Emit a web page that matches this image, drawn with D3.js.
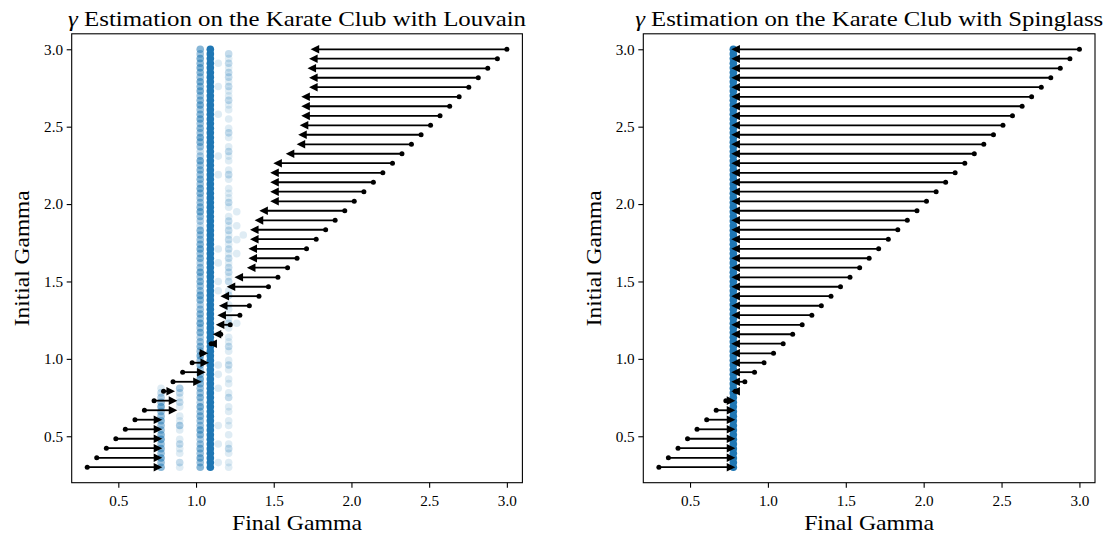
<!DOCTYPE html>
<html><head><meta charset="utf-8">
<script src="https://cdn.jsdelivr.net/npm/d3@7"></script>
<style>body{margin:0;background:#fff} svg{display:block} text{font-family:"Liberation Serif","DejaVu Serif",serif}</style>
</head><body><svg id="chart" width="1107" height="534"></svg>
<script>
// ---------- DATA ----------
const titles = ["Estimation on the Karate Club with Louvain", "Estimation on the Karate Club with Spinglass"];
const xLabel = "Final Gamma";
const yLabel = "Initial Gamma";
const tickValues = [0.5, 1.0, 1.5, 2.0, 2.5, 3.0];
const axisDomain = [0.2, 3.1];

// initial gammas of the single traced run (arrows)
const initialGamma = [0.300,0.361,0.423,0.484,0.545,0.607,0.668,0.730,0.791,0.852,0.914,0.975,1.036,1.098,1.159,1.220,1.282,1.343,1.405,1.466,1.527,1.589,1.650,1.711,1.773,1.834,1.895,1.957,2.018,2.080,2.141,2.202,2.264,2.325,2.386,2.448,2.509,2.570,2.632,2.693,2.755,2.816,2.877,2.939,3.000];
const louvainFinal = [0.770,0.770,0.770,0.770,0.770,0.770,0.867,0.867,0.852,1.024,1.049,1.071,1.066,1.092,1.120,1.140,1.150,1.160,1.170,1.210,1.260,1.340,1.350,1.350,1.360,1.360,1.390,1.420,1.490,1.490,1.490,1.490,1.510,1.590,1.660,1.670,1.680,1.690,1.690,1.690,1.740,1.740,1.730,1.740,1.750];
const spinglassFinal = [0.778,0.778,0.778,0.778,0.778,0.778,0.778,0.778,0.778,0.778,0.778,0.778,0.778,0.778,0.778,0.778,0.778,0.778,0.778,0.778,0.778,0.778,0.778,0.778,0.778,0.778,0.778,0.778,0.778,0.778,0.778,0.778,0.778,0.778,0.778,0.778,0.778,0.778,0.778,0.778,0.778,0.778,0.778,0.778,0.778];

// grid of initial gammas used for the repeated runs (scatter)
const gammaGrid = [0.30,0.33,0.36,0.39,0.42,0.45,0.48,0.51,0.54,0.57,0.60,0.63,0.66,0.69,0.72,0.75,0.78,0.81,0.84,0.87,0.90,0.93,0.96,0.99,1.02,1.05,1.08,1.11,1.14,1.17,1.20,1.23,1.26,1.29,1.32,1.35,1.38,1.41,1.44,1.47,1.50,1.53,1.56,1.59,1.62,1.65,1.68,1.71,1.74,1.77,1.80,1.83,1.86,1.89,1.92,1.95,1.98,2.01,2.04,2.07,2.10,2.13,2.16,2.19,2.22,2.25,2.28,2.31,2.34,2.37,2.40,2.43,2.46,2.49,2.52,2.55,2.58,2.61,2.64,2.67,2.70,2.73,2.76,2.79,2.82,2.85,2.88,2.91,2.94,2.97,3.00];
const gammaLow = [0.30,0.33,0.36,0.39,0.42,0.45,0.48,0.51,0.54,0.57,0.60,0.63,0.66,0.69,0.72,0.75,0.78,0.81];
const gamma1143 = [0.33,0.45,0.57,0.81,0.90,0.96,1.44,1.50,1.62,1.71,2.19,2.31,2.58,2.76,2.91];
const gamma1262 = [1.23,1.68,1.77,1.86,1.95];
const gamma1304 = [1.80];

// Louvain: final gamma levels and number of runs landing on them
const louvainLevels = [0.775, 0.895, 1.027, 1.092, 1.143, 1.210, 1.262, 1.304];
const louvainRunsAt = [gammaLow, gammaLow, gammaGrid, gammaGrid, gamma1143, gammaGrid, gamma1262, gamma1304];
const louvainRuns = [
  [5,4,6,4,5,4,6,5,4,4,5,4,4,6,4,3,2,1],
  [1,2,0,1,1,2,1,0,1,3,1,1,0,1,2,1,2,3],
  [5,4,6,4,5,4,3,5,6,4, 4,5,4,6,3,5,4,4,5,6, 4,3,5,4,6,4,5,4,3,5, 4,6,4,5,4,3,5,6,4,4, 5,4,6,4,3,5,4,6,5,4, 4,5,2,3,4,6,5,4,4,5, 6,4,5,4,5,4,6,3,2,4, 5,6,4,5,4,6,5,4,6,5, 4,6,5,6,4,5,6,5,6,4, 5],
  [62,58,65,60,57,63,66,59,61,64, 58,62,67,60,55,63,61,59,64,62, 57,60,66,63,59,61,58,64,62,60, 65,59,61,57,63,60,66,62,58,61, 64,59,62,60,57,63,61,65,58,62, 60,64,59,61,63,57,62,60,66,59, 61,63,58,62,60,64,59,61,57,63, 62,60,65,58,61,59,63,62,60,64, 58,61,63,59,62,60,57,64,61,60, 62],
  [1,1,1,1,1,1,1,1,1,1,1,1,1,1,1],
  [1,1,0,1,2,1,0,1,0,1, 1,0,1,1,0,2,1,0,1,1, 0,1,2,1,0,1,2,1,1,0, 1,2,1,0,1,1,0,2,1,0, 2,1,2,2,1,2,1,2,1,2, 1,2,1,2,1,0,1,2,1,1, 1,0,1,2,1,0,1,1,2,1, 0,1,2,1,0,1,0,1,1,2, 1,1,2,1,2,2,1,2,1,2, 0],
  [1,1,1,1,1],
  [1]
];

// Spinglass
const spinglassLevels = [0.778];
const spinglassRunsAt = [gammaGrid];
const spinglassRuns = [
  [100,99,100,100,98,100,100,99,100,100, 100,100,99,100,100,100,98,100,100,99, 100,100,100,99,100,100,100,100,99,100, 100,98,100,100,100,99,100,100,100,100, 99,100,100,100,100,98,100,100,99,100, 100,100,99,100,100,100,100,99,100,100, 98,100,100,100,99,100,100,100,100,99, 100,100,98,100,100,100,99,100,100,100, 100,99,100,100,100,98,100,100,99,100, 100]
];

// ---------- DRAW ----------
const svg = d3.select('#chart');
const FONT = '"Liberation Serif","DejaVu Serif",serif';
const BLUE = '#1f77b4';
const ALPHA = 0.14;
const plotTop = 33.8, plotBottom = 482.7;

const panels = [
  {left: 71.7, right: 522.4, title: titles[0], titleLen: 458, levels: louvainLevels, runsAt: louvainRunsAt, runs: louvainRuns, final: louvainFinal},
  {left: 643.3, right: 1095.0, title: titles[1], titleLen: 468, levels: spinglassLevels, runsAt: spinglassRunsAt, runs: spinglassRuns, final: spinglassFinal}
];

function txt(sel, size) {
  return sel.style('font-family', FONT).style('font-size', size + 'px').attr('fill', '#000');
}

panels.forEach(p => {
  const x = d3.scaleLinear().domain(axisDomain).range([p.left, p.right]);
  const y = d3.scaleLinear().domain(axisDomain).range([plotBottom, plotTop]);
  const g = svg.append('g');

  // scatter of repeated runs
  const pts = [];
  p.levels.forEach((lv, li) => {
    p.runsAt[li].forEach((gy, j) => {
      const n = p.runs[li][j];
      if (n > 0) pts.push({fx: lv, gy: gy, n: n});
    });
  });
  g.append('g').selectAll('circle').data(pts).join('circle')
    .attr('cx', d => x(d.fx)).attr('cy', d => y(d.gy)).attr('r', 3.8)
    .attr('fill', BLUE)
    .attr('fill-opacity', d => 1 - Math.pow(1 - ALPHA, d.n));

  // arrows
  const headLen = 8.6, headHalf = 4.3, over = 2;
  const arrows = initialGamma.map((g0, k) => ({g0: g0, g1: p.final[k]}));
  const ag = g.append('g');
  arrows.forEach(a => {
    const x0 = x(a.g0), yy = y(a.g0), x1 = x(a.g1);
    const d = x1 >= x0 ? 1 : -1;
    const tip = x1 + d * over;
    const base = tip - d * headLen;
    ag.append('line').attr('x1', x0).attr('x2', base + d * 1).attr('y1', yy).attr('y2', yy)
      .attr('stroke', '#000').attr('stroke-width', 1.8);
    ag.append('path')
      .attr('d', `M${tip},${yy}L${base},${yy - headHalf}L${base},${yy + headHalf}Z`)
      .attr('fill', '#000');
    ag.append('circle').attr('cx', x0).attr('cy', yy).attr('r', 2.5).attr('fill', '#000');
  });

  // axes
  const fmt = d3.format('.1f');
  const xa = g.append('g').attr('transform', `translate(0,${plotBottom})`)
    .call(d3.axisBottom(x).tickValues(tickValues).tickFormat(fmt).tickSize(5).tickSizeOuter(0));
  xa.selectAll('text').attr('y', 23.5).attr('dy', 0);
  const ya = g.append('g').attr('transform', `translate(${p.left},0)`)
    .call(d3.axisLeft(y).tickValues(tickValues).tickFormat(fmt).tickSize(5).tickSizeOuter(0));
  ya.selectAll('text').attr('x', -8.6);
  [xa, ya].forEach(ax => {
    ax.select('.domain').remove();
    ax.selectAll('line').attr('stroke', '#000').attr('stroke-width', 1.1);
    txt(ax.selectAll('text'), 15.2);
  });

  // spines
  g.append('rect').attr('x', p.left).attr('y', plotTop)
    .attr('width', p.right - p.left).attr('height', plotBottom - plotTop)
    .attr('fill', 'none').attr('stroke', '#000').attr('stroke-width', 1.1);

  const cx = (p.left + p.right) / 2;
  // title
  const t = txt(g.append('text'), 21.5).attr('x', cx).attr('y', 25.5).attr('text-anchor', 'middle')
    .attr('textLength', p.titleLen).attr('lengthAdjust', 'spacingAndGlyphs');
  t.append('tspan').style('font-style', 'italic').text('\u03B3');
  t.append('tspan').text(' ' + p.title);

  // axis labels
  txt(g.append('text'), 21.5).attr('x', cx).attr('y', 529.5).attr('text-anchor', 'middle')
    .attr('textLength', 130).attr('lengthAdjust', 'spacingAndGlyphs')
    .text(xLabel);
  txt(g.append('text'), 21.5)
    .attr('transform', `translate(${p.left - 42.5},${(plotTop + plotBottom) / 2}) rotate(-90)`)
    .attr('text-anchor', 'middle')
    .attr('textLength', 136).attr('lengthAdjust', 'spacingAndGlyphs')
    .text(yLabel);
});
</script>
</body></html>
